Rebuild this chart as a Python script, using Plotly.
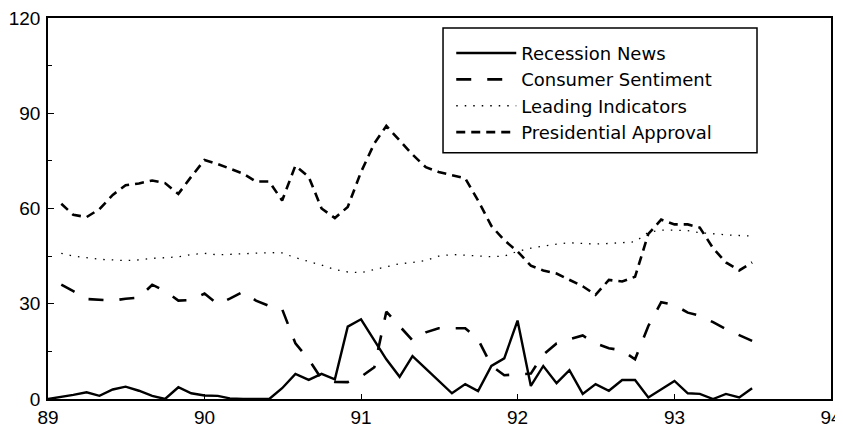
import pandas as pd
import plotly.graph_objects as go

# Monthly observations, Jan 1989 .. Jul 1993
months = pd.date_range("1989-01-01", periods=55, freq="MS")

recession_news = [0, 0.6, 1.3, 2.1, 1.0, 3.0, 3.9, 2.6, 1.0, 0,
                  3.7, 1.8, 1.1, 1.0, 0.2, 0, 0, 0, 3.4, 7.9,
                  6.0, 7.9, 6.2, 22.8, 25.1, 18.5, 12.5, 7.0, 13.5, 9.6,
                  5.7, 1.8, 4.7, 2.5, 10.4, 12.8, 24.7, 4.1, 10.4, 5.0,
                  9.1, 1.6, 4.7, 2.6, 6.0, 6.0, 0.5, 3.0, 5.7, 1.8,
                  1.6, 0, 1.6, 0.5, 3.4]

# the other three series start in Feb 1989
consumer_sentiment = [36.0, 34.0, 31.5, 31.2, 31.0, 31.6, 31.9, 36.0, 34.0, 31.0,
                      31.2, 33.2, 29.8, 31.6, 33.8, 31.0, 29.3, 28.3, 17.5, 12.5,
                      6.3, 5.4, 5.3, 7.0, 10.0, 27.5, 23.0, 18.5, 21.0, 22.3,
                      22.3, 22.3, 18.8, 10.5, 7.5, 7.7, 8.0, 14.0, 17.5, 18.8,
                      20.0, 17.5, 16.0, 15.3, 12.5, 23.0, 30.5, 29.6, 27.2, 26.2,
                      24.2, 22.0, 20.0, 18.3]

leading_indicators = [45.9, 45.0, 44.5, 44.0, 43.8, 43.6, 43.8, 44.3, 44.5,
                      44.8, 45.5, 45.9, 45.4, 45.6, 45.8, 46.1, 46.1, 46.0, 44.5,
                      43.3, 42.2, 40.8, 40.0, 39.8, 40.8, 41.8, 42.6, 43.0, 43.6,
                      45.0, 45.5, 45.3, 45.1, 44.8, 45.0, 46.5, 47.5, 48.2, 48.8,
                      49.2, 49.0, 48.8, 49.0, 49.3, 49.5, 52.5, 53.2, 53.2, 53.0,
                      52.4, 52.0, 51.7, 51.5, 51.3]

presidential_approval = [61.5, 58.0, 57.3, 59.8, 64.3, 67.3, 67.9, 68.8, 68.0, 64.6,
                         70.0, 75.3, 74.0, 72.5, 71.0, 68.5, 68.5, 62.5, 73.5, 70.0,
                         60.0, 57.0, 60.5, 71.5, 80.5, 86.0, 81.5, 77.0, 73.0, 71.5,
                         70.5, 69.5, 62.5, 54.5, 50.0, 46.5, 42.0, 40.5, 39.5, 37.5,
                         35.5, 32.8, 37.5, 37.0, 38.5, 52.0, 56.5, 55.0, 55.0, 54.0,
                         47.5, 43.0, 40.5, 43.0]

year_ticks = ["1989-01-01", "1990-01-01", "1991-01-01", "1992-01-01", "1993-01-01", "1994-01-01"]
year_labels = ["89", "90", "91", "92", "93", "94"]
y_ticks = [0, 30, 60, 90, 120]

fig = go.Figure()
fig.add_trace(go.Scatter(x=months, y=recession_news, mode="lines", name="Recession News",
                         line=dict(color="black", width=2.4), legendgroup="a"))
fig.add_trace(go.Scatter(x=months[1:], y=consumer_sentiment, mode="lines", name="Consumer Sentiment",
                         line=dict(color="black", width=2.6, dash="15px,16px"), legendgroup="b"))
fig.add_trace(go.Scatter(x=months[1:], y=leading_indicators, mode="lines", name="Leading Indicators",
                         line=dict(color="black", width=1.3, dash="1.5px,7px"), legendgroup="c"))
fig.add_trace(go.Scatter(x=months[1:], y=presidential_approval, mode="lines", name="Presidential Approval",
                         line=dict(color="black", width=2.6, dash="9px,6px"), legendgroup="d"))

axis_font = dict(family="Liberation Sans, Arial, sans-serif", size=19, color="black")

fig.update_xaxes(range=["1989-01-01", "1994-01-01"], tickvals=year_ticks, ticktext=year_labels,
                 showgrid=False, zeroline=False, showline=True, linecolor="black", linewidth=1.5,
                 mirror=True, ticks="inside", ticklen=5, tickcolor="black", tickfont=axis_font,
                 automargin=False, ticklabelstandoff=0, ticklabeloverflow="allow")
fig.update_yaxes(range=[0, 120], tickvals=y_ticks, showgrid=False, zeroline=False,
                 showline=True, linecolor="black", linewidth=1.5, mirror=True,
                 ticks="inside", ticklen=6, tickcolor="black", tickfont=axis_font,
                 minor=dict(dtick=15, tick0=0, ticks="inside", ticklen=4, tickcolor="black"),
                 automargin=False, ticklabelstandoff=2, ticklabeloverflow="allow")

fig.add_shape(type="rect", xref="paper", yref="paper", x0=0.5045, x1=0.9055, y0=0.6466, y1=0.9738,
              line=dict(color="black", width=1.5), fillcolor="white", layer="below")

# the page adds an 8px body margin, so the figure is sized to fit the 843x430 window
fig.update_layout(
    width=835, height=422,
    margin=dict(l=40, r=12, t=10, b=31),
    paper_bgcolor="white", plot_bgcolor="white",
    showlegend=True,
    legend=dict(x=0.515, y=0.956, xanchor="left", yanchor="top",
                bgcolor="rgba(0,0,0,0)", borderwidth=0,
                font=dict(family="DejaVu Sans, sans-serif", size=18, color="black"),
                tracegroupgap=0, itemwidth=60),
)

fig.write_html("out.html")
